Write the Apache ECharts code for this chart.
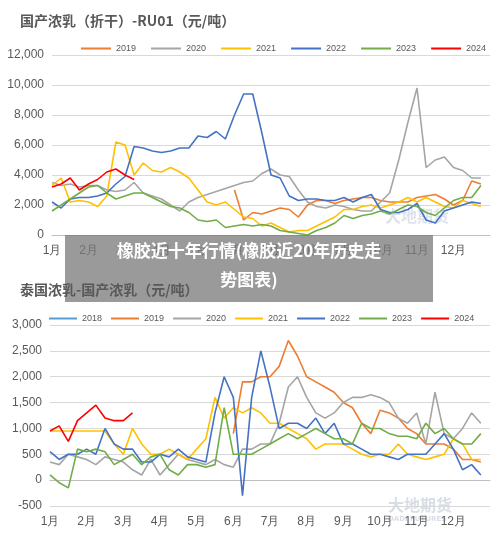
<![CDATA[<!DOCTYPE html>
<html><head><meta charset="utf-8">
<script src="https://cdn.jsdelivr.net/npm/echarts@6/dist/echarts.min.js"></script>
<style>html,body{margin:0;padding:0;background:#fff}#c{width:500px;height:537px}</style>
</head><body><div id="c"></div>
<script>
const monthLabels = ['1月','2月','3月','4月','5月','6月','7月','8月','9月','10月','11月','12月'];
const topYears = ['2019','2020','2021','2022','2023','2024'];
const botYears = ['2018','2019','2020','2021','2022','2023','2024'];
const colors = {'2018':'#5b9bd5','2019':'#ed7d31','2020':'#a5a5a5','2021':'#ffc000','2022':'#4472c4','2023':'#70ad47','2024':'#ff0000'};
const N = null;
// top chart: 国产浓乳（折干）-RU01, weekly values
const top2019 = [N,N,N,N,N,N,N,N,N,N,N,N,N,N,N,N,N,N,N,N,3000,1000,1500,1400,1600,1800,1700,1200,2000,2300,2300,2100,2300,2400,2500,2500,2300,2200,2200,2200,2500,2600,2700,2400,2000,2300,3600,3400];
const top2020 = [3500,3300,3400,3200,3300,3300,3000,2900,3000,3500,2800,2600,2400,2000,1600,2200,2500,2700,2900,3100,3300,3500,3600,4100,4400,4000,3900,3000,2200,1900,1800,2000,1900,1700,1600,1600,2200,2800,5000,7500,9800,4500,5000,5200,4500,4300,3800,3800];
const top2021 = [3300,3800,2200,2300,2200,1900,2600,6200,6000,4000,4800,4300,4200,4500,4200,3800,3000,2200,2000,2200,1700,1200,1100,600,800,500,200,300,300,600,900,1200,1700,1700,1900,2000,1800,2000,2200,2500,2200,2500,2200,1900,1800,2300,2100,1900];
const top2022 = [2200,1800,2400,2500,2500,2600,2800,3400,3900,5900,5800,5600,5500,5600,5800,5800,6600,6500,6900,6400,8000,9400,9400,6800,4000,3800,2600,2300,2400,2400,2300,2300,2500,2200,2500,2700,1700,1500,1500,1700,2100,1000,800,1600,1800,2000,2200,2100];
const top2023 = [1600,2000,2400,2800,3200,3300,2800,2400,2600,2800,2800,2500,2200,1900,1800,1500,1000,900,1000,500,600,700,600,700,600,300,200,100,0,300,500,800,1300,1100,1300,1400,1600,1400,1700,2000,1900,1500,1300,1800,2300,2500,2500,3300];
const top2024 = [3200,3400,3800,3000,3400,3700,4200,4400,4000,3700];
// bottom chart: 泰国浓乳-国产浓乳
const bot2018 = [];
const bot2019 = [N,N,N,N,N,N,N,N,N,N,N,N,N,N,N,N,N,N,N,N,900,1900,1900,2000,2000,2200,2700,2400,2000,1900,1800,1700,1500,1400,1100,900,1350,1300,1200,1000,900,700,700,700,600,400,400,350];
const bot2020 = [350,300,500,450,400,300,450,400,350,200,100,400,100,300,500,400,350,300,400,300,250,600,600,700,700,1100,1800,2000,1600,1300,1200,1300,1500,1600,1600,1650,1600,1500,1200,1100,1300,700,1700,900,800,1000,1300,1100];
const bot2021 = [950,950,950,950,950,950,950,700,500,1000,700,500,500,600,500,400,600,800,1600,1200,1400,1300,1400,1300,1100,1100,1000,900,800,600,700,700,700,600,500,450,500,500,700,500,450,400,450,500,800,700,400,400];
const bot2022 = [550,400,500,500,600,500,1000,700,600,600,350,350,500,450,600,450,400,350,1300,2000,1600,-300,1600,2500,1800,1000,1100,1100,1000,1200,900,1100,700,700,600,500,500,450,400,500,500,500,700,900,600,200,300,100];
const bot2023 = [100,-50,-150,600,550,600,550,300,400,500,300,450,500,200,100,300,300,250,300,1400,500,500,500,600,700,800,900,800,900,1000,900,800,800,700,1100,1000,1000,900,850,850,800,1100,900,1000,800,700,700,900];
const bot2024 = [950,1050,750,1150,1300,1450,1200,1150,1150,1300];
const topTicks = {min:0,max:12000,interval:2000};
const botTicks = {min:-500,max:3000,interval:500};

const topData = {'2019':top2019,'2020':top2020,'2021':top2021,'2022':top2022,'2023':top2023,'2024':top2024};
const botData = {'2018':bot2018,'2019':bot2019,'2020':bot2020,'2021':bot2021,'2022':bot2022,'2023':bot2023,'2024':bot2024};
const toPairs = a => a.map((v,i)=>[i/4,v]);
const series = [];
topYears.forEach(y=>series.push({name:y,type:'line',xAxisIndex:0,yAxisIndex:0,data:toPairs(topData[y]),showSymbol:false,lineStyle:{width:1.6,color:colors[y]},itemStyle:{color:colors[y]}}));
botYears.forEach(y=>series.push({name:'b'+y,type:'line',xAxisIndex:1,yAxisIndex:1,data:toPairs(botData[y]),showSymbol:false,lineStyle:{width:1.6,color:colors[y]},itemStyle:{color:colors[y]}}));
const xAx = gi => ({type:'value',gridIndex:gi,min:0,max:12,interval:1,axisLine:{lineStyle:{color:'#bfbfbf'}},axisTick:{show:false},splitLine:{show:false},
  axisLabel:{color:'#595959',fontSize:12,margin:10,formatter:v=>v<12?monthLabels[v]:''}});
const yAx = (gi,t) => ({type:'value',gridIndex:gi,min:t.min,max:t.max,interval:t.interval,axisLine:{show:false},axisTick:{show:false},
  splitLine:{lineStyle:{color:'#d9d9d9'}},axisLabel:{color:'#595959',fontSize:12}});
const legText = {color:'#595959',fontSize:9};
const chart = echarts.init(document.getElementById('c'));
chart.setOption({
  animation:false,
  grid:[{left:52,right:10,top:55,height:180},{left:50,right:10,top:325,height:181}],
  xAxis:[xAx(0),xAx(1)],
  yAxis:[yAx(0,topTicks),yAx(1,botTicks)],
  legend:[
    {data:topYears,top:39,left:76,width:440,itemWidth:30,itemHeight:2,itemGap:15,icon:'rect',textStyle:legText},
    {data:botYears.map(y=>({name:'b'+y})),top:309,left:44,width:460,itemWidth:28,itemGap:9,itemHeight:2,icon:'rect',textStyle:legText,formatter:n=>n.slice(1)}
  ],
  series:series,
  graphic:[
    {type:'text',left:385,top:208,style:{text:'大地期货',fill:'rgba(190,200,215,0.5)',font:'bold 16px "Noto Sans CJK SC"'}},
    {type:'text',left:388,top:497,style:{text:'大地期货',fill:'rgba(190,200,215,0.6)',font:'bold 16px "Noto Sans CJK SC"'}},
    {type:'text',left:388,top:516,style:{text:'DADI FUTURES',fill:'rgba(190,200,215,0.6)',font:'bold 7px "DejaVu Sans"'}},
    {type:'rect',z:100,shape:{x:65,y:235,width:368,height:67},style:{fill:'rgba(120,120,120,0.75)'}},
    {type:'text',z:101,x:249,y:251,style:{text:'橡胶近十年行情(橡胶近20年历史走',fill:'#fff',font:'bold 17px "Noto Sans CJK SC"',align:'center',verticalAlign:'middle'}},
    {type:'text',z:101,x:249,y:280,style:{text:'势图表)',fill:'#fff',font:'bold 17px "Noto Sans CJK SC"',align:'center',verticalAlign:'middle'}},
    {type:'text',z:102,left:20,top:14,style:{text:'国产浓乳（折干）-RU01（元/吨）',fill:'#595959',font:'bold 14px "Noto Sans CJK SC"'}},
    {type:'text',z:102,left:20,top:283,style:{text:'泰国浓乳-国产浓乳（元/吨）',fill:'#595959',font:'bold 14px "Noto Sans CJK SC"'}}
  ]
});
</script></body></html>]]>
